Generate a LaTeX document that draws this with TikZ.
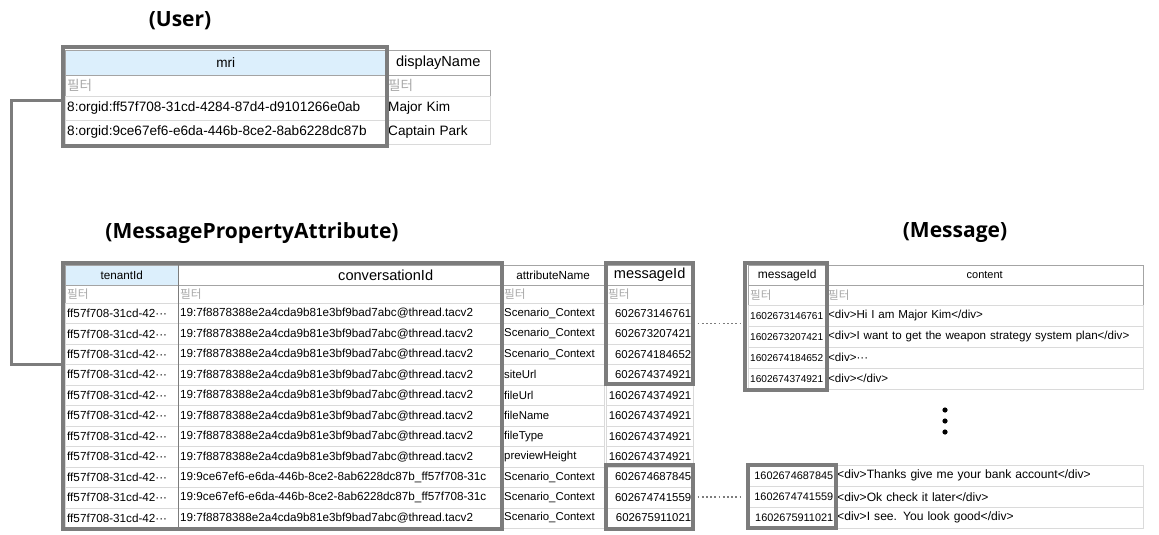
\documentclass[tikz,border=0pt]{standalone}
\usepackage{fontspec}
\setmainfont{Liberation Sans}
\newfontfamily\cjk{Noto Sans CJK KR}
\newfontfamily\headfont{Open Sans}
\definecolor{gridc}{HTML}{DADADA}
\definecolor{rulec}{HTML}{A4A4A4}
\definecolor{boxc}{HTML}{7C7C7C}
\definecolor{keyc}{HTML}{DCEFFC}
\definecolor{filtc}{HTML}{A8A8A8}
\newcommand\tsize[1]{\fontsize{#1}{#1}\selectfont}
\newcommand\filt{{\cjk 필터}}
\newcommand\divtag[1]{<div>#1</div>}
\newcommand\convA{19:7f8878388e2a4cda9b81e3bf9bad7abc@thread.tacv2}
\newcommand\convB{19:9ce67ef6-e6da-446b-8ce2-8ab6228dc87b\_ff57f708-31c}

\begin{document}
\begin{tikzpicture}[x=1pt, y=-1pt,
  cell/.style={draw=gridc, anchor=north west, inner xsep=2pt, inner ysep=0pt, align=left},
  head/.style={cell, draw=rulec, align=center},
  filter/.style={cell, draw=rulec, text=filtc},
  key/.style={draw=boxc, line width=3.2pt, inner sep=0pt},
  link/.style={draw=boxc, line width=2.8pt},
  dots/.style={draw=boxc, line width=1.8pt, dash pattern=on 1.8pt off 2.4pt, shorten <=3pt, shorten >=3pt},
  title/.style={font=\headfont\bfseries\tsize{21}}]
\useasboundingbox (0,0) rectangle (1159,535);

\node[title] (tUser) at (180,21) {(User)};
\node[title] (tMpa) at (252,233) {(MessagePropertyAttribute)};
\node[title] (tMsg) at (955,233) {(Message)};

\begin{scope}[font=\tsize{13.6}]
\node[head, text width=317pt, minimum height=25pt, fill=keyc] (uh1) at (65,50) {mri};
\node[head, text width=100pt, minimum height=25pt, font=\tsize{14.6}] (uh2) at (386,50) {displayName};
\node[filter, text width=317pt, minimum height=21pt] (uf1) at (65,75) {\filt};
\node[filter, text width=100pt, minimum height=21pt] (uf2) at (386,75) {\filt};
\foreach \m/\n [count=\i] in {8:orgid:ff57f708-31cd-4284-87d4-d9101266e0ab/Major Kim,
    8:orgid:9ce67ef6-e6da-446b-8ce2-8ab6228dc87b/Captain Park} {
  \node[cell, text width=317pt, minimum height=24pt] (um\i) at (65,72+24*\i) {\m};
  \node[cell, text width=100pt, minimum height=24pt] (ud\i) at (386,72+24*\i) {\n};
}
\end{scope}

\begin{scope}[font=\tsize{11.7}]
\node[head, text width=109pt, minimum height=20pt, fill=keyc] (ph1) at (65,265) {tenantId};
\node[cell, draw=rulec, text width=318pt, minimum height=20pt, font=\tsize{14.6}] (ph2) at (178,265) {\hspace*{158pt}conversationId};
\node[head, text width=98pt, minimum height=20pt] (ph3) at (502,265) {attributeName};
\node[head, text width=83pt, minimum height=20pt, font=\tsize{14.6}] (ph4) at (606,265) {messageId};
\foreach \x/\w [count=\j] in {65/109,178/318,502/98,606/83}
  \node[filter, text width=\w pt, minimum height=18pt] (pf\j) at (\x,285) {\filt};
\foreach \c/\a/\m [count=\i] in {\convA/Scenario\_Context/602673146761,
    \convA/Scenario\_Context/602673207421, \convA/Scenario\_Context/602674184652,
    \convA/siteUrl/602674374921, \convA/fileUrl/1602674374921,
    \convA/fileName/1602674374921, \convA/fileType/1602674374921,
    \convA/previewHeight/1602674374921, \convB/Scenario\_Context/602674687845,
    \convB/Scenario\_Context/602674741559, \convA/Scenario\_Context/602675911021} {
  \node[cell, text width=109pt, minimum height=20.45pt] (pt\i) at (65,282.55+20.45*\i) {ff57f708-31cd-42···};
  \node[cell, text width=318pt, minimum height=20.45pt] (pc\i) at (178,282.55+20.45*\i) {\c};
  \node[cell, text width=98pt, minimum height=20.45pt, font=\tsize{11.4}] (pa\i) at (502,282.55+20.45*\i) {\a};
  \node[cell, text width=83pt, minimum height=20.45pt, align=right, font=\tsize{11.4}] (pm\i) at (606,282.55+20.45*\i) {\m};
}
\end{scope}

\begin{scope}[font=\tsize{11.6}]
\node[head, text width=74pt, minimum height=20pt, font=\tsize{12}] (gh1) at (748,265) {messageId};
\node[head, text width=313pt, minimum height=20pt, font=\tsize{11}] (gh2) at (826,265) {content};
\node[filter, text width=74pt, minimum height=20pt] (gf1) at (748,285) {\filt};
\node[filter, text width=313pt, minimum height=20pt] (gf2) at (826,285) {\filt};
\foreach \m/\t [count=\i] in {1602673146761/\divtag{Hi I am Major Kim},
    1602673207421/\divtag{I want to get the weapon strategy system plan},
    1602674184652/<div>···, 1602674374921/\divtag{}} {
  \node[cell, text width=74pt, minimum height=21pt, font=\tsize{10.1}] (gm\i) at (748,284+21*\i) {\m};
  \node[cell, text width=313pt, minimum height=21pt] (gc\i) at (826,284+21*\i) {\t};
}
\end{scope}

\begin{scope}[font=\tsize{12.1}]
\foreach \m/\t [count=\i] in {1602674687845/\divtag{Thanks give me your bank account},
    1602674741559/\divtag{Ok check it later}, 1602675911021/\divtag{I see. You look good}} {
  \node[cell, text width=83pt, minimum height=21pt, align=right, font=\tsize{10.9}] (bm\i) at (748,444+21*\i) {\m};
  \node[cell, text width=304pt, minimum height=21pt] (bc\i) at (835,444+21*\i) {\t};
}
\end{scope}

\node[key, minimum width=324pt, minimum height=99pt] (usrKey) at (225,96.5) {};
\node[key, minimum width=439pt, minimum height=266pt] (mpaKey) at (282.5,396) {};
\node[key, minimum width=87pt, minimum height=121pt] (mpaTopId) at (649.5,323.5) {};
\node[key, minimum width=87pt, minimum height=64pt] (mpaBotId) at (649.5,497) {};
\node[key, minimum width=82pt, minimum height=127pt] (msgTopId) at (786,326.5) {};
\node[key, minimum width=88pt, minimum height=63pt] (msgBotId) at (792,496.5) {};
\draw[boxc, line width=1.2pt] (ph1.north east) -- (pt11.south east);

\draw[link] ([yshift=-4pt]usrKey.west) -- ++(-50,0) |- (pt3.south west);
\draw[dots] (mpaTopId.east) -- (mpaTopId.east -| msgTopId.west);
\draw[dots] (mpaBotId.east) -- (mpaBotId.east -| msgBotId.west);
\foreach \yy in {410,421,432} \fill (945,\yy) circle (2.6pt);
\end{tikzpicture}
\end{document}
